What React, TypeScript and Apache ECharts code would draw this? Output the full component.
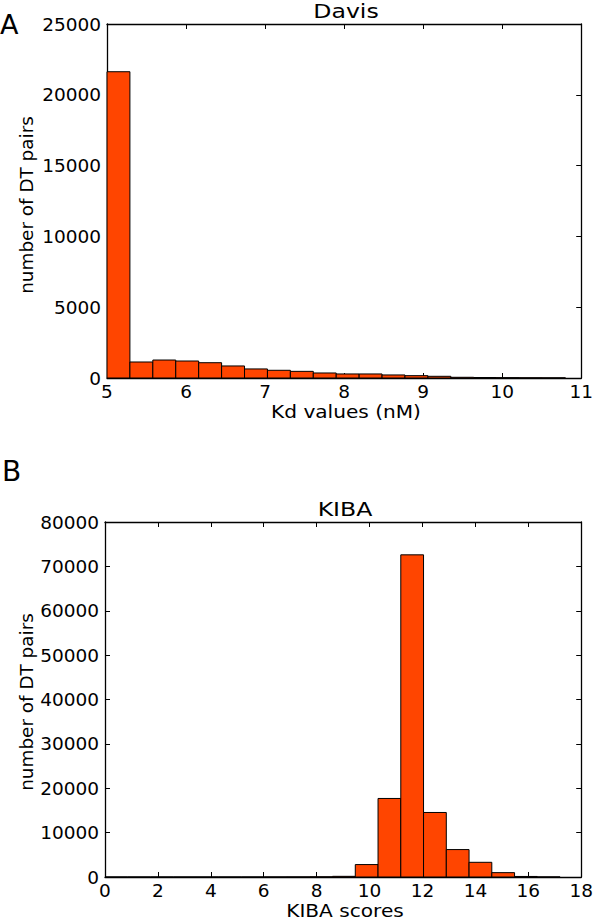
import React, { useEffect, useRef } from "react";
import * as echarts from "echarts";

const davisBinEdges = [5.0, 5.29, 5.58, 5.87, 6.16, 6.45, 6.74, 7.03, 7.32, 7.61, 7.9, 8.19, 8.48, 8.77, 9.06, 9.35, 9.64, 9.93, 10.22, 10.51, 10.8];
const davisCounts = [21630, 1130, 1270, 1200, 1080, 850, 640, 545, 470, 355, 285, 285, 215, 165, 120, 50, 35, 25, 15, 10];

const kibaBinEdges = [0, 0.86, 1.72, 2.58, 3.44, 4.3, 5.16, 6.02, 6.88, 7.74, 8.6, 9.46, 10.32, 11.18, 12.04, 12.9, 13.76, 14.62, 15.48, 16.34, 17.2];
const kibaCounts = [2, 1, 1, 2, 3, 3, 5, 8, 15, 40, 150, 2800, 17700, 72600, 14540, 6180, 3310, 980, 120, 15];

const davisXTicks = { min: 5, max: 11, interval: 1 };
const davisYTicks = { min: 0, max: 25000, interval: 5000 };
const kibaXTicks = { min: 0, max: 18, interval: 2 };
const kibaYTicks = { min: 0, max: 80000, interval: 10000 };

const FONT = "DejaVu Sans";
const FILL = "#FF4500";

function binsToData(edges: number[], counts: number[]) {
  return counts.map((c, i) => [edges[i], edges[i + 1], c]);
}

export default function App() {
  const ref = useRef<HTMLDivElement>(null);
  useEffect(() => {
    document.body.style.margin = "0";
    const chart = echarts.init(ref.current!, null, { renderer: "svg" });
    const tickLabel = { color: "#000", fontFamily: FONT, fontSize: 18.5 };
    const mkX = (idx: number, t: any, top: boolean) => ({
      type: "value",
      gridIndex: idx,
      position: top ? "top" : "bottom",
      min: t.min,
      max: t.max,
      interval: t.interval,
      axisLine: { show: true, onZero: false, lineStyle: { color: "#000", width: 1.3 } },
      axisTick: { show: true, inside: true, length: 5, lineStyle: { color: "#000" } },
      axisLabel: top ? { show: false } : { ...tickLabel, margin: 4, formatter: (v: number) => String(v) },
      splitLine: { show: false },
    });
    const mkY = (idx: number, t: any, right: boolean) => ({
      type: "value",
      gridIndex: idx,
      position: right ? "right" : "left",
      min: t.min,
      max: t.max,
      interval: t.interval,
      axisLine: { show: true, onZero: false, lineStyle: { color: "#000", width: 1.3 } },
      axisTick: { show: true, inside: true, length: 5, lineStyle: { color: "#000" } },
      axisLabel: right ? { show: false } : { ...tickLabel, margin: 6, formatter: (v: number) => String(v) },
      splitLine: { show: false },
    });
    const renderItem = (params: any, api: any) => {
      const x0 = api.value(0);
      const x1 = api.value(1);
      const y = api.value(2);
      const p0 = api.coord([x0, y]);
      const p1 = api.coord([x1, 0]);
      return {
        type: "rect",
        shape: { x: p0[0], y: p0[1], width: p1[0] - p0[0], height: p1[1] - p0[1] },
        style: { fill: FILL, stroke: "#000", lineWidth: 1 },
      };
    };
    const txt = (
      x: number,
      y: number,
      text: string,
      size: number,
      align = "center",
      vAlign = "bottom",
      rotation = 0,
      scaleX = 1
    ) => ({
      type: "text",
      x,
      y,
      rotation,
      scaleX,
      style: {
        text,
        fill: "#000",
        fontFamily: FONT,
        fontSize: size,
        textAlign: align,
        textVerticalAlign: vAlign,
      },
    });
    chart.setOption({
      animation: false,
      grid: [
        { left: 107, top: 24, width: 478, height: 354 },
        { left: 105, top: 522, width: 480, height: 355 },
      ],
      xAxis: [mkX(0, davisXTicks, false), mkX(0, davisXTicks, true), mkX(1, kibaXTicks, false), mkX(1, kibaXTicks, true)],
      yAxis: [mkY(0, davisYTicks, false), mkY(0, davisYTicks, true), mkY(1, kibaYTicks, false), mkY(1, kibaYTicks, true)],
      series: [
        {
          type: "custom",
          xAxisIndex: 0,
          yAxisIndex: 0,
          renderItem,
          encode: { x: [0, 1], y: 2 },
          data: binsToData(davisBinEdges, davisCounts),
          z: 1,
        },
        {
          type: "custom",
          xAxisIndex: 2,
          yAxisIndex: 2,
          renderItem,
          encode: { x: [0, 1], y: 2 },
          data: binsToData(kibaBinEdges, kibaCounts),
          z: 1,
        },
      ],
      graphic: [
        txt(346, 21, "Davis", 20, "center", "bottom", 0, 1.18),
        txt(346, 421, "Kd values (nM)", 17.5, "center", "bottom", 0, 1.15),
        txt(26, 205, "number of DT pairs", 18.4, "center", "middle", Math.PI / 2),
        txt(0, 38, "A", 27, "left"),
        txt(345, 519, "KIBA", 20, "center", "bottom", 0, 1.18),
        txt(345, 920, "KIBA scores", 17.5, "center", "bottom", 0, 1.15),
        txt(26, 702, "number of DT pairs", 18.4, "center", "middle", Math.PI / 2),
        txt(2, 485, "B", 28, "left"),
      ],
    });
    return () => chart.dispose();
  }, []);
  return <div ref={ref} style={{ width: 596, height: 920 }} />;
}
